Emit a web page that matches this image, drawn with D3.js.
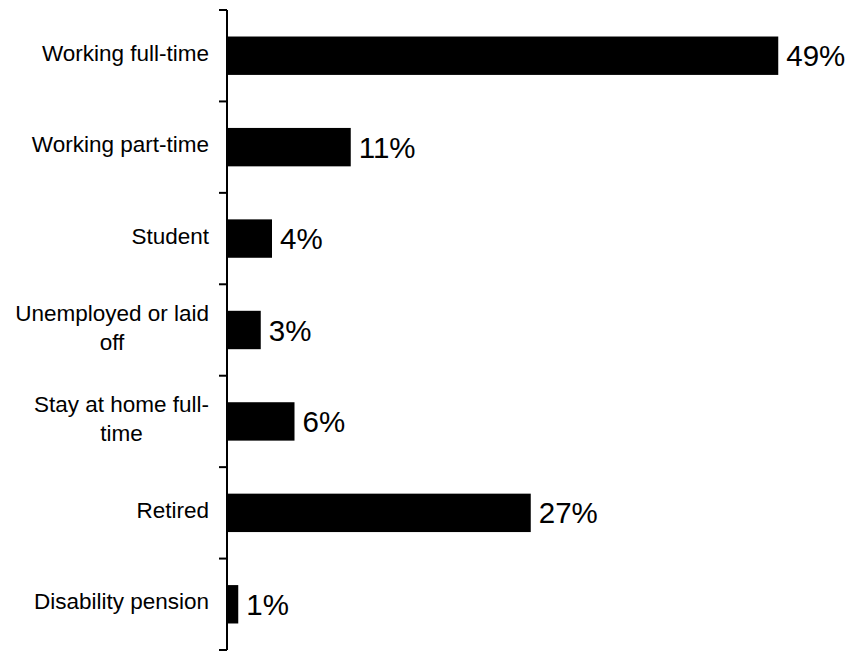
<!DOCTYPE html>
<html>
<head>
<meta charset="utf-8">
<script src="https://cdn.jsdelivr.net/npm/d3@7"></script>
<style>
  body { margin: 0; background: #fff; }
  text { font-family: "Liberation Sans", Arial, sans-serif; fill: #000; }
</style>
</head>
<body>
<div id="chart"></div>
<script>
// Data
const categories = [
  'Working full-time',
  'Working part-time',
  'Student',
  'Unemployed or laid\noff',
  'Stay at home full-\ntime',
  'Retired',
  'Disability pension'
];
const shares = [0.49, 0.11, 0.04, 0.03, 0.06, 0.27, 0.01];

const width = 853;
const height = 652;
const axisX = 227;

const svg = d3.select('#chart')
  .append('svg')
  .attr('width', width)
  .attr('height', height);

// Scales
const x = d3.scaleLinear()
  .domain([0, 0.5])
  .range([axisX, axisX + 562.5]);

const y = d3.scaleBand()
  .domain(categories)
  .range([10, 650])
  .paddingInner(0.58)
  .paddingOuter(0.29);

const rows = categories.map((c, i) => ({ name: c, value: shares[i] }));

// Bars
svg.selectAll('rect.bar')
  .data(rows)
  .enter()
  .append('rect')
  .attr('class', 'bar')
  .attr('x', x(0))
  .attr('y', d => y(d.name))
  .attr('width', d => x(d.value) - x(0))
  .attr('height', y.bandwidth())
  .attr('fill', '#000');

// Value labels
svg.selectAll('text.value')
  .data(rows)
  .enter()
  .append('text')
  .attr('class', 'value')
  .attr('x', d => x(d.value) + 8)
  .attr('y', d => y(d.name) + y.bandwidth() / 2)
  .attr('dy', '0.36em')
  .style('font-size', '29.5px')
  .text(d => d3.format('.0%')(d.value));

// Axis line and ticks at band boundaries
const step = y.step();
const tickYs = d3.range(categories.length + 1).map(i => 10 + i * step);

svg.append('line')
  .attr('x1', axisX).attr('x2', axisX)
  .attr('y1', 10).attr('y2', 650)
  .attr('stroke', '#000')
  .attr('stroke-width', 2);

svg.selectAll('line.tick')
  .data(tickYs)
  .enter()
  .append('line')
  .attr('class', 'tick')
  .attr('x1', axisX - 8).attr('x2', axisX)
  .attr('y1', d => d).attr('y2', d => d)
  .attr('stroke', '#000')
  .attr('stroke-width', 2);

// Category labels: block right-aligned, wrapped lines centred within it
const lineH = 29;
const labelRight = 209;
const labels = svg.selectAll('text.cat')
  .data(rows)
  .enter()
  .append('text')
  .attr('class', 'cat')
  .attr('text-anchor', 'middle')
  .style('font-size', '22.5px')
  .attr('transform', d => `translate(0,${y(d.name) + y.bandwidth() / 2})`);

labels.each(function(d) {
  const lines = d.name.split('\n');
  const offset = -(lines.length - 1) * lineH / 2 - 3;
  const g = d3.select(this);
  const spans = g.selectAll('tspan')
    .data(lines)
    .enter()
    .append('tspan')
    .attr('y', (l, i) => offset + i * lineH)
    .attr('dy', '0.36em')
    .text(l => l);
  let maxW = 0;
  spans.each(function() { maxW = Math.max(maxW, this.getComputedTextLength()); });
  spans.attr('x', labelRight - maxW / 2);
});
</script>
</body>
</html>
